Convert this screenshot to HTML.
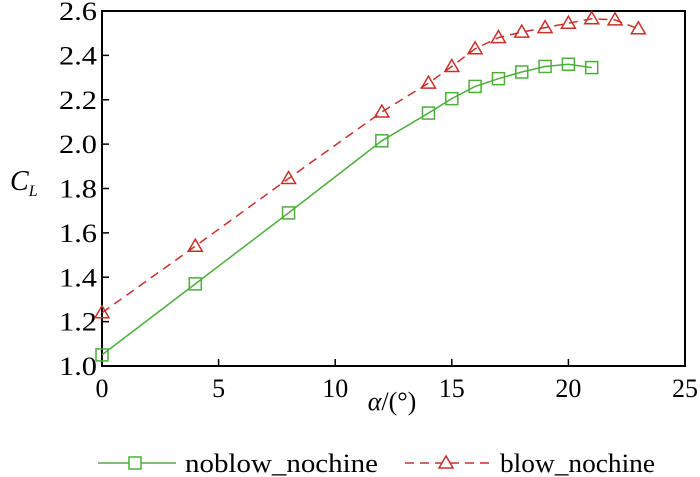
<!DOCTYPE html>
<html><head><meta charset="utf-8"><style>
body{margin:0;background:#fff}
svg{display:block;font-family:"Liberation Serif",serif}
</style></head><body>
<svg width="700" height="477" id="c"></svg>
<script>
const xTicks=[0,5,10,15,20,25];
const yTicks=[1.0,1.2,1.4,1.6,1.8,2.0,2.2,2.4,2.6];
const alphaA=[0,4,8,12,14,15,16,17,18,19,20,21];
const noblow=[1.05,1.37,1.69,2.015,2.14,2.205,2.26,2.295,2.325,2.35,2.36,2.345];
const alphaB=[0,4,8,12,14,15,16,17,18,19,20,21,22,23];
const blow=[1.24,1.54,1.845,2.145,2.275,2.35,2.43,2.48,2.505,2.525,2.545,2.565,2.56,2.52];
const L=102,R=685,T=11,B=366;
const X=v=>L+(v-0)/25*(R-L), Y=v=>B-(v-1.0)/1.6*(B-T);
const s=document.getElementById('c'),NS='http://www.w3.org/2000/svg';
function el(t,a,p){const e=document.createElementNS(NS,t);for(const k in a)e.setAttribute(k,a[k]);(p||s).appendChild(e);return e;}
let f=el('rect',{x:L,y:T,width:R-L,height:B-T,fill:'none',stroke:'#000','stroke-width':2});


xTicks.forEach(v=>{const t=el('line',{x1:X(v),x2:X(v),y1:B,y2:B-7,stroke:'#000','stroke-width':1.5});


const l=el('text',{x:X(v),y:B+31,'text-anchor':'middle','font-size':26});l.textContent=v;

});
yTicks.forEach(v=>{const t=el('line',{x1:L,x2:L+7,y1:Y(v),y2:Y(v),stroke:'#000','stroke-width':1.5});


const l=el('text',{x:L-5,y:Y(v)+9,'text-anchor':'end','font-size':26,textLength:38,lengthAdjust:'spacingAndGlyphs'});l.textContent=v.toFixed(1);

});
function path(xs,ys){return xs.map((x,i)=>(i?'L':'M')+X(x)+','+Y(ys[i])).join('');}
const g='#4caf3a',r='#c8302a';
let p1=el('path',{d:path(alphaA,noblow),fill:'none',stroke:g,'stroke-width':1.5});


let p2=el('path',{d:path(alphaB,blow),fill:'none',stroke:r,'stroke-width':1.5,'stroke-dasharray':'9,6'});


function sq(x,y){return el('rect',{x:x-6,y:y-6,width:12,height:12,fill:'none',stroke:g,'stroke-width':1.5});}
function tri(x,y){return el('path',{d:`M${x},${y-7}L${x+7},${y+5}L${x-7},${y+5}Z`,fill:'none',stroke:r,'stroke-width':1.5});}
alphaA.forEach((a,i)=>{const m=sq(X(a),Y(noblow[i]));

});
alphaB.forEach((a,i)=>{const m=tri(X(a),Y(blow[i]));

});
</script>
<svg style="position:absolute;left:0;top:0" width="700" height="477">
<g font-family="Liberation Serif,serif">
<text x="10" y="190" font-size="28" font-style="italic">C<tspan font-size="16" dy="6">L</tspan></text>
<text x="392" y="410" font-size="26" text-anchor="middle"><tspan font-style="italic">α</tspan>/(°)</text>
<g>
<line x1="98" y1="463" x2="176" y2="463" stroke="#4caf3a" stroke-width="1.5"/>
<rect x="129" y="457" width="12" height="12" fill="#fff" stroke="#4caf3a" stroke-width="1.5"/>
<text x="185" y="472" font-size="26" textLength="193" lengthAdjust="spacingAndGlyphs">noblow_nochine</text></g>
<g>
<line x1="405" y1="463" x2="490" y2="463" stroke="#c8302a" stroke-width="1.5" stroke-dasharray="9,6"/>
<path d="M446,456L453,468L439,468Z" fill="#fff" stroke="#c8302a" stroke-width="1.5"/>
<text x="500" y="472" font-size="26" textLength="155" lengthAdjust="spacingAndGlyphs">blow_nochine</text></g>
</g></svg>
</body></html>
